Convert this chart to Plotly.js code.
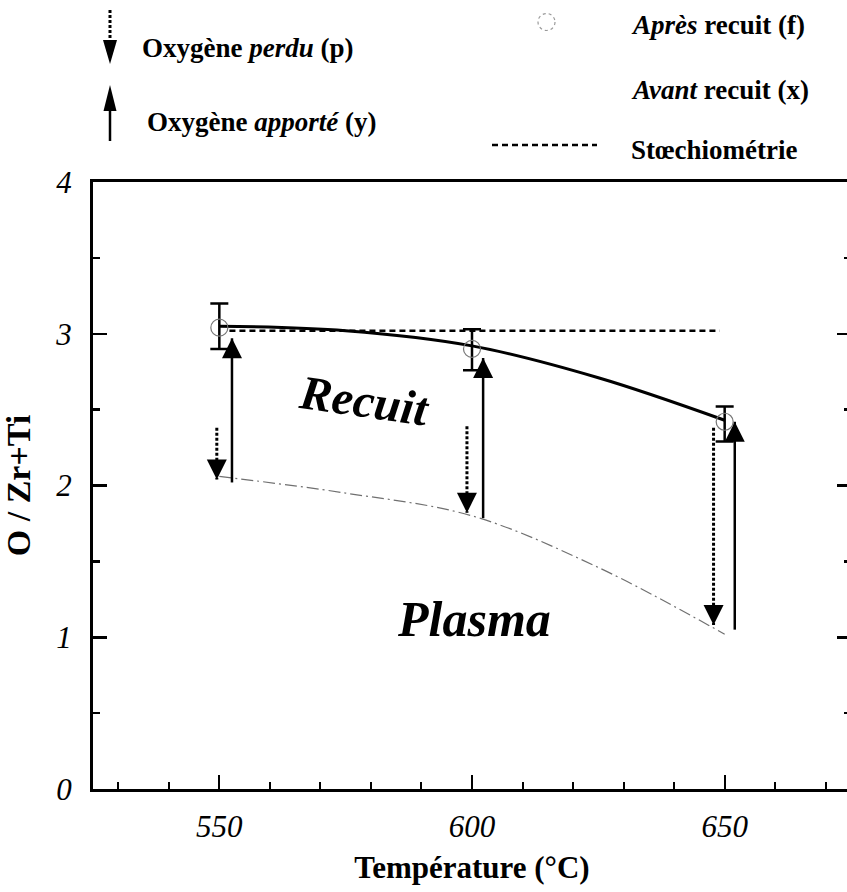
<!DOCTYPE html>
<html><head><meta charset="utf-8">
<script src="https://cdn.plot.ly/plotly-3.0.1.min.js"></script>
<style>html,body{margin:0;padding:0;overflow:hidden;background:#fff;width:847px;height:892px}</style>
</head><body><div id="chart" style="width:862px;height:892px"></div>
<script>
// ---- data ----
const temperatures = [550, 600, 650];
const apresRecuit = [3.04, 2.90, 2.42];
const errPlus = [0.16, 0.13, 0.10];
const errMinus = [0.14, 0.14, 0.13];
const recuitCurveX = [550, 575, 600, 625, 650];
const recuitCurveY = [3.05, 3.02, 2.92, 2.71, 2.43];
const plasmaCurveX = [550, 575, 600, 625, 650];
const plasmaCurveY = [2.06, 1.95, 1.80, 1.46, 1.02];
const stoechX = [552, 649];
const stoechY = [3.02, 3.02];
const perduX = [549.5, 599, 647.8];
const perduFrom = [2.38, 2.39, 2.38];
const perduTo = [2.04, 1.82, 1.08];
const apporteX = [552.5, 602.2, 652];
const apporteFrom = [2.02, 1.785, 1.05];
const apporteTo = [2.97, 2.84, 2.42];
const xTickVals = [550, 600, 650];
const xTickText = ['550', '600', '650'];
const yTickVals = [0, 1, 2, 3, 4];
const yTickText = ['0', '1', '2', '3', '4'];

const FONT = '"Liberation Serif"';

function segments(xs, from, to) {
  const X = [], Y = [];
  xs.forEach((x, i) => { X.push(x, x, null); Y.push(from[i], to[i], null); });
  return {X, Y};
}
const perduSeg = segments(perduX, perduFrom, perduTo);
const apporteSeg = segments(apporteX, apporteFrom, apporteTo);

const traces = [
  {x: plasmaCurveX, y: plasmaCurveY, mode: 'lines', line: {color: '#707070', width: 1.2, dash: '12px,4px,2px,4px', shape: 'spline'}, hoverinfo: 'skip'},
  {x: stoechX, y: stoechY, mode: 'lines', line: {color: '#000', width: 2.5, dash: '6px,4px'}, hoverinfo: 'skip'},
  {x: recuitCurveX, y: recuitCurveY, mode: 'lines', line: {color: '#000', width: 3, shape: 'spline'}, hoverinfo: 'skip'},
  {x: perduSeg.X, y: perduSeg.Y, mode: 'lines', line: {color: '#000', width: 3, dash: '3px,2px'}, hoverinfo: 'skip'},
  {x: perduX, y: perduTo, mode: 'markers', marker: {symbol: 'arrow-down', size: 20, color: '#000', line: {width: 0}}, hoverinfo: 'skip'},
  {x: apporteSeg.X, y: apporteSeg.Y, mode: 'lines', line: {color: '#000', width: 2.5}, hoverinfo: 'skip'},
  {x: apporteX, y: apporteTo, mode: 'markers', marker: {symbol: 'arrow-up', size: 20, color: '#000', line: {width: 0}}, hoverinfo: 'skip'},
  {x: temperatures, y: apresRecuit, mode: 'markers',
   marker: {symbol: 'circle-open', size: 17, color: '#777', line: {width: 1.2, color: '#777'}},
   error_y: {type: 'data', symmetric: false, array: errPlus, arrayminus: errMinus, color: '#000', thickness: 2.5, width: 9}},
];

// plot area geometry (pixels) for legend placement
const L = 93, T = 182, W = 758, H = 607;
const px = v => (v - L) / W;
const py = v => (T + H - v) / H;

const shapes = [
  {type: 'line', xref: 'paper', yref: 'paper', x0: px(110), x1: px(110), y0: py(10), y1: py(46), line: {color: '#000', width: 3, dash: '3px,2px'}},
  {type: 'path', xref: 'paper', yref: 'paper', path: `M${px(103)},${py(40)} L${px(117)},${py(40)} L${px(110)},${py(64)} Z`, fillcolor: '#000', line: {width: 0}},
  {type: 'line', xref: 'paper', yref: 'paper', x0: px(110), x1: px(110), y0: py(104), y1: py(141), line: {color: '#000', width: 2.5}},
  {type: 'path', xref: 'paper', yref: 'paper', path: `M${px(103.5)},${py(111)} L${px(116.5)},${py(111)} L${px(110)},${py(85)} Z`, fillcolor: '#000', line: {width: 0}},
  {type: 'circle', xref: 'paper', yref: 'paper', x0: px(538), x1: px(555), y0: py(13.5), y1: py(30.5), line: {color: '#999', width: 1.2, dash: 'dot'}},
  {type: 'line', xref: 'paper', yref: 'paper', x0: px(492), x1: px(597), y0: py(145), y1: py(145), line: {color: '#000', width: 2.5, dash: '6px,4px'}},
];

function legText(text, left, cy) {
  return {xref: 'paper', yref: 'paper', x: px(left), y: py(cy), xanchor: 'left', yanchor: 'middle',
    text: text, showarrow: false, font: {family: FONT, size: 27, color: '#000', weight: 'bold'}};
}

const annotations = [
  legText('Oxygène <i>perdu</i> (p)', 140, 48),
  legText('Oxygène <i>apporté</i> (y)', 145, 122),
  legText('<i>Après</i> recuit (f)', 629, 25),
  legText('<i>Avant</i> recuit (x)', 629, 90),
  legText('Stœchiométrie', 629, 150),
  {xref: 'x', yref: 'y', x: 578.8, y: 2.56, text: 'Recuit', showarrow: false, textangle: 8,
   font: {family: FONT, size: 48, color: '#000', weight: 'bold', style: 'italic'}},
  {xref: 'x', yref: 'y', x: 600.4, y: 1.12, text: 'Plasma', showarrow: false,
   font: {family: FONT, size: 50, color: '#000', weight: 'bold', style: 'italic'}},
];

const layout = {
  width: 862, height: 892,
  margin: {l: L, r: 862 - L - W, t: T, b: 892 - T - H, pad: 0},
  paper_bgcolor: '#fff', plot_bgcolor: '#fff',
  showlegend: false,
  font: {family: FONT, color: '#000'},
  xaxis: {
    range: [525, 675], tickmode: 'array', tickvals: xTickVals, ticktext: xTickText,
    ticks: 'inside', ticklen: 14, tickwidth: 2, tickcolor: '#000',
    minor: {dtick: 10, tick0: 530, ticks: 'inside', ticklen: 7, tickwidth: 2, tickcolor: '#000', showgrid: false},
    showline: true, linewidth: 3, linecolor: '#000', mirror: true,
    showgrid: false, zeroline: false,
    tickfont: {family: FONT, size: 31, style: 'italic', color: '#000'},
    ticklabelstandoff: 8,
    title: {text: 'Température (°C)', font: {family: FONT, size: 31, weight: 'bold', color: '#000'}, standoff: 14},
  },
  yaxis: {
    range: [0, 4], tickmode: 'array', tickvals: yTickVals, ticktext: yTickText,
    ticks: 'inside', ticklen: 14, tickwidth: 2.5, tickcolor: '#000',
    minor: {dtick: 0.5, tick0: 0, ticks: 'inside', ticklen: 7, tickwidth: 2.5, tickcolor: '#000', showgrid: false},
    showline: true, linewidth: 3, linecolor: '#000', mirror: 'allticks',
    showgrid: false, zeroline: false,
    tickfont: {family: FONT, size: 31, style: 'italic', color: '#000'},
    ticklabelstandoff: 12,
    title: {text: 'O / Zr+Ti', font: {family: FONT, size: 34, weight: 'bold', color: '#000'}, standoff: 20},
  },
  shapes: shapes,
  annotations: annotations,
};

Plotly.newPlot('chart', traces, layout, {staticPlot: true, displayModeBar: false});
</script>
</body></html>
